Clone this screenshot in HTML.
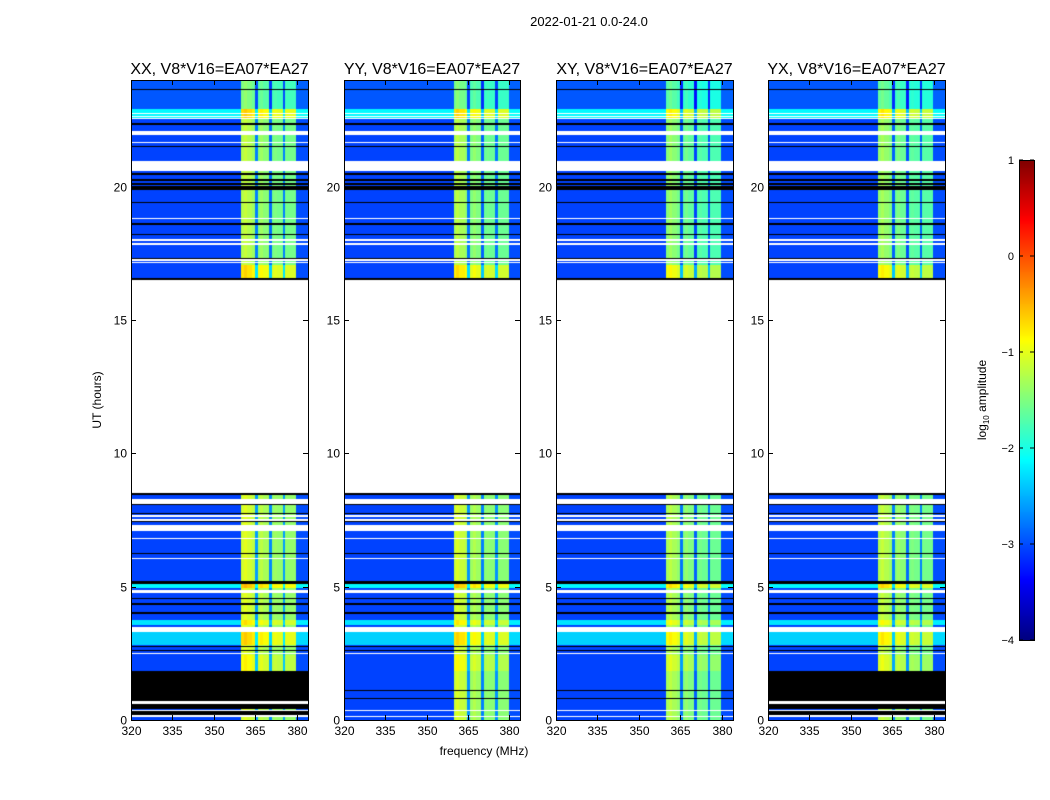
<!DOCTYPE html>
<html><head><meta charset="utf-8"><style>
body{margin:0;background:#fff;}
#wrap{position:relative;width:1050px;height:800px;font-family:"Liberation Sans",sans-serif;}
canvas{position:absolute;}
svg{position:absolute;left:0;top:0;}
</style></head><body>
<div id="wrap">
<svg id="ov" width="1050" height="800"></svg>
</div>
<script>
// ---- data ----
const panelTitles = ["XX, V8*V16=EA07*EA27","YY, V8*V16=EA07*EA27","XY, V8*V16=EA07*EA27","YX, V8*V16=EA07*EA27"];
const chanStart = 320; // MHz, 1 MHz channels
const chanLevel = [-3.05,-3.05,-3.05,-3.05,-3.05,-3.05,-3.05,-3.05,-3.05,-3.05,
 -3.05,-3.05,-3.05,-3.05,-3.05,-3.05,-3.05,-3.05,-3.05,-3.05,
 -3.05,-3.05,-3.05,-3.05,-3.05,-3.05,-3.05,-3.05,-3.05,-3.05,
 -3.05,-3.05,-3.05,-3.05,-3.05,-3.05,-3.05,-3.05,-3.05,-3.05,
 -1.1,-1.0,-1.1,-1.1,-1.2,-2.6,-1.3,-1.2,-1.3,-1.3,
 -2.7,-1.4,-1.35,-1.4,-1.4,-2.6,-1.4,-1.4,-1.4,-1.4,
 -3.0,-3.0,-3.0,-3.0];
const panelBandAdd = [0,-0.05,-0.2,-0.15];
// [startHour, endHour, bgAdd, bandAdd]
const gainSegs = [[16.53,24,0,-0.15],[22.9,24,0.1,-0.4],[22.55,22.9,0.9,0.4],[16.53,17.05,0,0.35],
 [0,8.47,0,0],[4.95,5.1,0.9,0.5],[3.55,3.75,0.8,0.3],[2.8,3.3,0.7,0.4],[1.85,2.45,0,0.2]];
// flagged intervals per panel: [startHour,endHour,kind]  w=white(no data) k=black(zero)
const flagsCommon = [[8.47,16.53,"w"],[23.62,23.68,"k"],[22.72,22.76,"w"],[22.62,22.66,"w"],[22.53,22.57,"w"],
 [22.33,22.38,"k"],[21.93,22.1,"w"],[21.63,21.68,"w"],[21.48,21.53,"k"],[20.6,20.95,"w"],
 [20.45,20.5,"k"],[20.23,20.28,"k"],[20.08,20.13,"k"],[19.88,20.02,"k"],[19.38,19.43,"k"],
 [18.78,18.83,"w"],[18.58,18.63,"k"],[18.18,18.23,"k"],[17.98,18.03,"w"],[17.83,17.88,"w"],
 [17.28,17.33,"k"],[17.23,17.27,"w"],[17.13,17.17,"w"],[16.5,16.56,"k"],
 [8.44,8.5,"k"],[8.1,8.3,"w"],[8.05,8.1,"k"],[7.73,7.78,"k"],[7.63,7.67,"w"],[7.48,7.52,"w"],[7.43,7.47,"k"],
 [7.1,7.3,"w"],[6.78,6.83,"w"],[6.23,6.28,"k"],[6.03,6.08,"w"],[5.1,5.22,"k"],[4.78,4.88,"w"],
 [4.53,4.58,"k"],[4.33,4.38,"k"],[3.98,4.04,"k"],[3.3,3.5,"w"],[2.73,2.78,"k"],[2.58,2.63,"k"],[2.47,2.53,"w"]];
const flagsXXYX = [[0.73,1.85,"k"],[0.6,0.73,"w"],[0.4,0.6,"k"],[0.33,0.38,"w"],[0.18,0.33,"k"],[0.12,0.18,"w"]];
const flagsYYXY = [[1.08,1.13,"k"],[0.78,0.83,"k"],[0.33,0.38,"w"],[0.12,0.16,"w"]];
const panelFlags = [flagsXXYX, flagsYYXY, flagsYYXY, flagsXXYX];
const yTicks = [0,5,10,15,20];
const xTicks = [320,335,350,365,380];
const cbTicks = [1,0,-1,-2,-3,-4];
const cbLabels = ["1","0","\u22121","\u22122","\u22123","\u22124"];

// ---- layout ----
const panelX = [[131,308],[344,520],[556,733],[768,945]];
const yTop=80, yBot=720, hMax=24, fMin=320, fMax=384;
const vMin=-4, vMax=1;
function yOf(h){return yBot-(h/hMax)*(yBot-yTop);}
function jet(v){let x=(v-vMin)/(vMax-vMin);x=Math.max(0,Math.min(1,x));
 const c=t=>Math.round(255*Math.max(0,Math.min(1,1.5-Math.abs(t))));
 return [c(4*x-3),c(4*x-2),c(4*x-1)];}

const wrap=document.getElementById('wrap');
const NS="http://www.w3.org/2000/svg";
const ov=document.getElementById('ov');
function st(tag,attrs,txt){const e=document.createElementNS(NS,tag);for(const k in attrs)e.setAttribute(k,attrs[k]);if(txt!==undefined)e.textContent=txt;ov.appendChild(e);return e;}

panelX.forEach(([x0,x1],p)=>{
 const w=x1-x0,hgt=yBot-yTop;
 const cv=document.createElement('canvas');
 cv.width=w;cv.height=hgt;cv.style.left=x0+'px';cv.style.top=yTop+'px';
 
 
 wrap.insertBefore(cv,ov);
 const ctx=cv.getContext('2d');
 const xOf=f=>(f-fMin)/(fMax-fMin)*w;
 const flags=flagsCommon.concat(panelFlags[p]);
 for(let py=0;py<hgt;py++){
  const h=(hgt-py-0.5)/hgt*hMax;
  let flag=null;
  for(const f of flags){if(h>=f[0]&&h<f[1])flag=f[2];}
  if(flag==="w"){continue;}
  if(flag==="k"){ctx.fillStyle="#000";ctx.fillRect(0,py,w,1);continue;}
  let bg=0,bd=0;
  for(const g of gainSegs){if(h>=g[0]&&h<g[1]){bg=g[2];bd=g[3];}}
  chanLevel.forEach((lv,c)=>{
   const band=lv>-2.8&&c<60;
   const v=lv+(band?bd+panelBandAdd[p]:bg);
   const col=jet(v);
   ctx.fillStyle=`rgb(${col[0]},${col[1]},${col[2]})`;
   const a=xOf(chanStart+c),b=xOf(chanStart+c+1);
   ctx.fillRect(Math.floor(a),py,Math.ceil(b)-Math.floor(a),1);
  });
 }
 const r=st('rect',{x:x0+0.5,y:yTop+0.5,width:w,height:hgt,fill:'none',stroke:'#000','stroke-width':1});
 
 
 const t=st('text',{x:(x0+x1)/2,y:74,'text-anchor':'middle','font-size':16},panelTitles[p]);
 
 
 yTicks.forEach(v=>{const y=Math.round(yOf(v))+0.5;
  st('line',{x1:x0,x2:x0+5,y1:y,y2:y,stroke:'#000'});
  st('line',{x1:x1-5,x2:x1,y1:y,y2:y,stroke:'#000'});
  const l=st('text',{x:x0-4,y:y+4,'text-anchor':'end','font-size':12},String(v));
  
  
 });
 xTicks.forEach(v=>{const x=Math.round(x0+xOf(v))+0.5;
  st('line',{x1:x,x2:x,y1:yBot,y2:yBot-5,stroke:'#000'});
  st('line',{x1:x,x2:x,y1:yTop,y2:yTop+5,stroke:'#000'});
  const l=st('text',{x:x,y:yBot+15,'text-anchor':'middle','font-size':12},String(v));
  
  
 });
});

// colorbar
const cbX=1019,cbW=15,cbT=160,cbB=640;
const cb=document.createElement('canvas');cb.width=cbW;cb.height=cbB-cbT;
cb.style.left=cbX+'px';cb.style.top=cbT+'px';


wrap.insertBefore(cb,ov);
const cctx=cb.getContext('2d');
for(let y=0;y<cbB-cbT;y++){const v=vMax-(y+0.5)/(cbB-cbT)*(vMax-vMin);const c=jet(v);cctx.fillStyle=`rgb(${c[0]},${c[1]},${c[2]})`;cctx.fillRect(0,y,cbW,1);}
st('rect',{x:cbX+0.5,y:cbT+0.5,width:cbW,height:cbB-cbT,fill:'none',stroke:'#000'});
cbTicks.forEach((v,i)=>{const y=cbT+(vMax-v)/(vMax-vMin)*(cbB-cbT);
 st('line',{x1:cbX,x2:cbX+4,y1:y,y2:y,stroke:'#000'});
 st('line',{x1:cbX+cbW-4,x2:cbX+cbW,y1:y,y2:y,stroke:'#000'});
 const l=st('text',{x:cbX-5,y:y+4,'text-anchor':'end','font-size':11},cbLabels[i]);
 
 
});
const cbl=st('text',{x:986,y:400,'text-anchor':'middle','font-size':12,transform:'rotate(-90 986 400)'});
cbl.innerHTML='log<tspan font-size="8" dy="3">10</tspan><tspan dy="-3"> amplitude</tspan>';



const sup=st('text',{x:589,y:26,'text-anchor':'middle','font-size':13},'2022-01-21 0.0-24.0');


const xl=st('text',{x:484,y:755,'text-anchor':'middle','font-size':12},'frequency (MHz)');


const yl=st('text',{x:101,y:400,'text-anchor':'middle','font-size':12,transform:'rotate(-90 101 400)'},'UT (hours)');


</script>
</body></html>
